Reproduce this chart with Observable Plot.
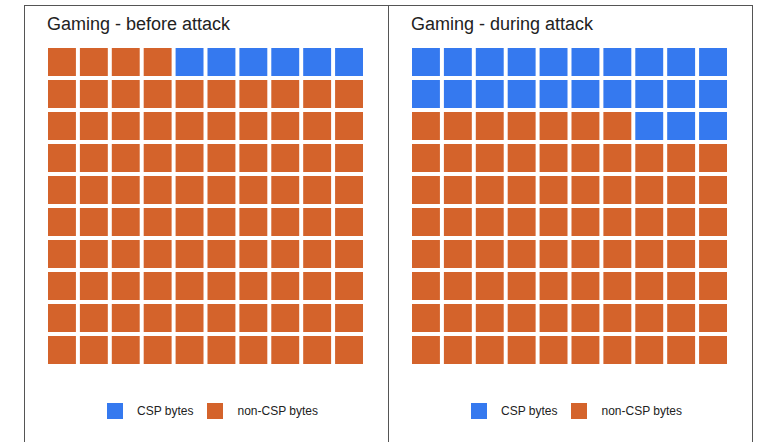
<!DOCTYPE html>
<html>
<head>
<meta charset="utf-8">
<script src="https://cdn.jsdelivr.net/npm/d3@7"></script>
<script src="https://cdn.jsdelivr.net/npm/@observablehq/plot@0.6"></script>
<style>
  html, body { margin: 0; padding: 0; background: #fff; }
  body { width: 757px; height: 442px; position: relative; overflow: hidden;
         font-family: "Liberation Sans", Arial, sans-serif; color: #222; }
  .panel { position: absolute; top: 5px; width: 365px; height: 445px; box-sizing: border-box;
           border: 1px solid #555; border-bottom: none; background: #fff; }
  .title { position: absolute; left: 22px; top: 9px; font-size: 18px; line-height: 18px;
           color: #222; white-space: nowrap; }
  .waffle { position: absolute; left: 0; top: 34px; }
  .waffle svg { display: block; }
  .legend { position: absolute; left: 82px; top: 397px; height: 16px; display: flex;
            align-items: center; font-size: 12px; color: #222; white-space: nowrap; }
  .legend .sw { display: block; margin-right: 14px; }
  .legend .lab { margin-right: 14px; }
</style>
</head>
<body>
<script>
// Two waffle charts (10 × 10 cells) of CSP vs. non-CSP bytes for gaming traffic
const panelTitles = ["Gaming - before attack", "Gaming - during attack"];
const cspCells = [6, 23];           // cells (out of 100) taken by CSP bytes
const gridRows = 10;
const gridCols = 10;
const categories = ["CSP bytes", "non-CSP bytes"];
const categoryColors = ["#3579ef", "#d4632b"];
const panelLefts = [24, 388];

panelTitles.forEach((title, p) => {
  const panel = d3.select("body").append("div")
    .attr("class", "panel")
    .style("left", panelLefts[p] + "px");

  panel.append("div").attr("class", "title").text(title);

  // CSP cells fill row by row, starting from the top-right corner
  const cells = d3.range(gridRows * gridCols).map(k => ({
    row: Math.floor(k / gridCols),
    col: gridCols - 1 - (k % gridCols),
    category: k < cspCells[p] ? categories[0] : categories[1]
  }));

  const chart = Plot.plot({
    width: 363,
    height: 332,
    marginLeft: 23,
    marginRight: 25,
    marginTop: 8,
    marginBottom: 8,
    x: {domain: d3.range(gridCols), paddingInner: 0.125, paddingOuter: 0, round: false, axis: null},
    y: {domain: d3.range(gridRows), paddingInner: 0.125, paddingOuter: 0, round: false, axis: null},
    color: {domain: categories, range: categoryColors},
    marks: [
      Plot.cell(cells, {x: "col", y: "row", fill: "category"})
    ]
  });
  panel.append("div").attr("class", "waffle").node().appendChild(chart);

  // legend built from the chart's color scale
  const color = chart.scale("color");
  const legend = panel.append("div").attr("class", "legend");
  color.domain.forEach(name => {
    legend.append("svg")
      .attr("class", "sw")
      .attr("width", 16).attr("height", 16)
      .append("rect")
      .attr("width", 16).attr("height", 16)
      .attr("fill", color.apply(name));
    legend.append("span").attr("class", "lab").text(name);
  });
});
</script>
</body>
</html>
